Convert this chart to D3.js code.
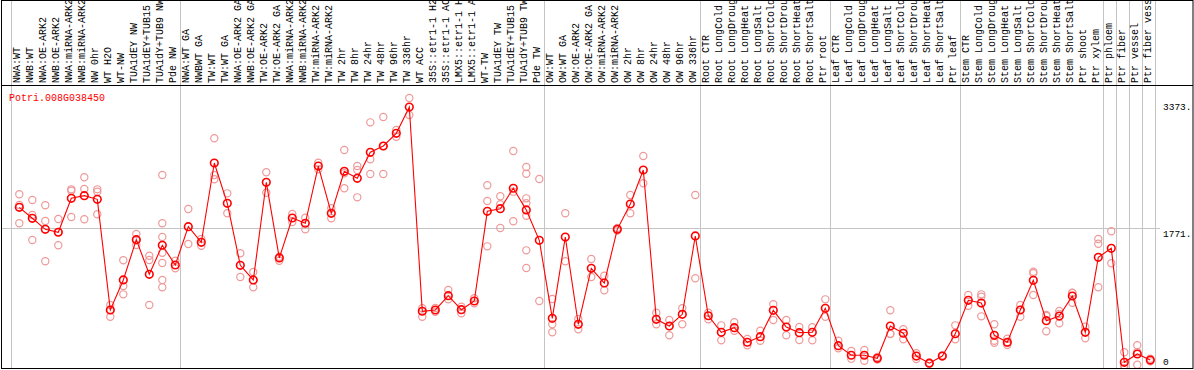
<!DOCTYPE html>
<html>
<head>
<meta charset="utf-8">
<script src="https://cdn.jsdelivr.net/npm/d3@7"></script>
<style>
    body { margin: 0; background: #fff; }
    svg text { font-family: "Liberation Mono", "DejaVu Sans Mono", monospace; }
</style>
</head>
<body onload="init()">
<div id="chart"></div>
<script>

var GENE = "Potri.008G038450";

var LABELS = [
    "NWA:WT", "NWB:WT", "NWA:OE-ARK2", "NWB:OE-ARK2", "NWA:miRNA-ARK2", "NWB:miRNA-ARK2",
    "NW 0hr", "WT H2O", "WT-NW", "TUA1dEY NW", "TUA1dEY+TUB15", "TUA1dY+TUB9 NW", "Pde NW",
    "NWA:WT GA", "NWBWT GA", "TW:WT", "TW:WT GA", "NWA:OE-ARK2 GA", "NWB:OE-ARK2 GA",
    "TW:OE-ARK2", "TW:OE-ARK2 GA", "NWA:miRNA-ARK2", "NWB:miRNA-ARK2", "TW:miRNA-ARK2", "TW:miRNA-ARK2",
    "TW 2hr", "TW 8hr", "TW 24hr", "TW 48hr", "TW 96hr", "TW 336hr",
    "WT ACC", "35S::etr1-1 H2", "35S::etr1-1 AC", "LMX5::etr1-1 H", "LMX5::etr1-1 A",
    "WT-TW", "TUA1dEY TW", "TUA1dEY+TUB15", "TUA1dY+TUB9 TW", "Pde TW",
    "OW:WT", "OW:WT GA", "OW:OE-ARK2", "OW:OE-ARK2 GA", "OW:miRNA-ARK2", "OW:miRNA-ARK2",
    "OW 2hr", "OW 8hr", "OW 24hr", "OW 48hr", "OW 96hr", "OW 336hr",
    "Root CTR", "Root LongCold", "Root LongDroug", "Root LongHeat", "Root LongSalt",
    "Root ShortCold", "Root ShortDrou", "Root ShortHeat", "Root ShortSalt", "Ptr root",
    "Leaf CTR", "Leaf LongCold", "Leaf LongDroug", "Leaf LongHeat", "Leaf LongSalt",
    "Leaf ShortCold", "Leaf ShortDrou", "Leaf ShortHeat", "Leaf ShortSalt", "Ptr leaf",
    "Stem CTR", "Stem LongCold", "Stem LongDroug", "Stem LongHeat", "Stem LongSalt",
    "Stem ShortCold", "Stem ShortDrou", "Stem ShortHeat", "Stem ShortSalt",
    "Ptr shoot", "Ptr xylem", "Ptr phloem", "Ptr fiber", "Ptr vessel", "Ptr fiber vess"
];

/* mean expression per sample */
var MEANS = [
    2046, 1901, 1755, 1716, 2165, 2200, 2152, 688, 1085, 1618, 1160, 1544, 1283,
    1790, 1583, 2632, 2099, 1279, 1085, 2377, 1376, 1905, 1835, 2592, 1967,
    2522, 2430, 2774, 2857, 3025, 3373,
    671, 688, 877, 692, 807,
    1993, 2028, 2298, 2011, 1610,
    578, 1653, 499, 1239, 1045, 1755, 2090, 2540, 565, 476, 631, 1667,
    612, 393, 454, 261, 335, 684, 463, 388, 393, 710,
    216, 89, 89, 49, 476, 380, 79, -15, 79, 374,
    816, 780, 353, 261, 688, 1081, 546, 608, 873,
    393, 1385, 1504, -4, 106, 26
];

/* single replicates per sample */
var REPLICATES = [
    [2218, 2077, 1835], [2143, 1944, 1614], [2073, 1865, 1332], [1891, 1720, 1544],
    [2284, 2266, 1918], [2443, 2288, 1888], [2284, 2253, 1954], [754, 599, 688],
    [1345, 1005, 895], [1693, 1548, 1614], [1406, 1349, 754],
    [2473, 1835, 1653, 1446, 1309, 1085, 988], [1340, 1239],
    [2024, 1561], [1627, 1538], [2959, 2473, 2417], [2231, 1967], [1438, 1124], [1190, 988],
    [2509, 2239], [1393, 1340], [1958, 1852], [1909, 1755], [2636, 2549], [2033, 1901],
    [2804, 2496, 2298], [2592, 2540, 2178], [3170, 2681, 2487], [3241, 2487, 2857],
    [3070, 2980], [3492, 3267],
    [710, 599], [665, 714], [952, 829], [644, 731], [843, 776],
    [2337, 2130, 1530], [2192, 2086, 1772], [2791, 2253, 1861],
    [2579, 2491, 2165, 2099, 1935, 1477, 1243], [2421, 807],
    [833, 499, 393], [1967, 1332], [569, 433], [1362, 1124], [1141, 948], [1772, 1739],
    [2209, 1967], [2725, 2364], [652, 499], [556, 353], [710, 499], [2209, 1107],
    [652, 565], [485, 287], [525, 414], [304, 221], [414, 282],
    [763, 556], [556, 353], [463, 291], [459, 287], [829, 599],
    [282, 181], [145, 44], [159, 17], [66, 33], [684, 374, 370],
    [433, 300], [115, 40], [-10, -20], [75, 85], [485, 300],
    [886, 745], [895, 864, 604], [499, 282, 255], [308, 225, 251], [754, 599, 690],
    [1194, 1173, 886], [622, 406, 610], [675, 512, 637], [917, 784, 913],
    [467, 313], [1627, 1565, 988], [1729, 1306], [128, -83, -45], [221, -36, 133], [44, 9]
];

/* index of the first sample of every group, separators are drawn there */
var GROUP_STARTS = [0, 13, 41, 53, 63, 73, 84, 85, 86, 87, 88];

var Y_TICKS = [0, 1771, 3373];

var WIDTH = 1194;
var HEIGHT = 370;
var LABEL_HEIGHT = 85;
var PLOT_BOTTOM = 368;

function init(){
    var svg = d3.select("#chart").append("svg")
        .attr("width", WIDTH)
        .attr("height", HEIGHT);

    var indices = d3.range(LABELS.length);

    var x = d3.scaleBand().domain(indices).range([11.3, 11.3 + 13*LABELS.length]);
    var y = d3.scaleLinear().domain([0, 3373]).range([362, 107]);

    function cx(i){ return x(i) + 8; }

    svg.append("clipPath").attr("id", "plotClip")
        .append("rect")
        .attr("x", 1).attr("y", LABEL_HEIGHT + 1)
        .attr("width", WIDTH - 2).attr("height", PLOT_BOTTOM - LABEL_HEIGHT - 1);

    svg.append("clipPath").attr("id", "labelClip")
        .append("rect")
        .attr("x", 0).attr("y", 1)
        .attr("width", WIDTH).attr("height", LABEL_HEIGHT - 1);

    /* grid: group separators and middle line */
    svg.append("g").selectAll("line")
        .data(GROUP_STARTS).enter()
        .append("line")
        .attr("x1", function(d){ return Math.round(x(0) + d*x.step()) + 0.5; })
        .attr("x2", function(d){ return Math.round(x(0) + d*x.step()) + 0.5; })
        .attr("y1", 0)
        .attr("y2", PLOT_BOTTOM)
        .attr("stroke", "#c4c4c4")
        .attr("stroke-width", 1);

    svg.append("line")
        .attr("x1", 1).attr("x2", 1160)
        .attr("y1", Math.round(y(1771)) + 0.5)
        .attr("y2", Math.round(y(1771)) + 0.5)
        .attr("stroke", "#c4c4c4");

    /* sample labels */
    svg.append("g").attr("clip-path", "url(#labelClip)")
        .selectAll("text")
        .data(LABELS).enter()
        .append("text")
        .attr("transform", function(d, i){ return "translate(" + (cx(i) + 1) + "," + (LABEL_HEIGHT - 2) + ") rotate(-90)"; })
        .style("font-size", "10px")
        .attr("fill", "#000")
        .text(function(d){ return d; });

    /* frame */
    svg.append("rect")
        .attr("x", 1.5).attr("y", 0.5)
        .attr("width", WIDTH - 2.5).attr("height", PLOT_BOTTOM)
        .attr("fill", "none")
        .attr("stroke", "#000");

    svg.append("line")
        .attr("x1", 1).attr("x2", WIDTH - 1)
        .attr("y1", LABEL_HEIGHT + 0.5).attr("y2", LABEL_HEIGHT + 0.5)
        .attr("stroke", "#000");

    /* y labels on the right */
    svg.append("g").selectAll("text")
        .data(Y_TICKS).enter()
        .append("text")
        .attr("x", 1163)
        .attr("y", function(d, i){
            if (i == 1) return y(d) + 8.5;
            return y(d) + 3;
        })
        .style("font-size", "9.5px")
        .attr("fill", "#000")
        .text(function(d){ return d == 0 ? "0" : d + "."; });

    /* gene name */
    svg.append("text")
        .attr("x", 9)
        .attr("y", 101)
        .style("font-size", "10px")
        .attr("fill", "#ff0000")
        .text(GENE);

    var plot = svg.append("g").attr("clip-path", "url(#plotClip)");

    /* replicates */
    REPLICATES.forEach(function(reps, i){
        plot.append("g").selectAll("circle")
            .data(reps).enter()
            .append("circle")
            .attr("cx", cx(i))
            .attr("cy", function(d){ return y(d); })
            .attr("r", 3.6)
            .attr("fill", "none")
            .attr("stroke", "#ee9a9a")
            .attr("stroke-width", 1.2);
    });

    /* mean line */
    var line = d3.line()
        .x(function(d, i){ return cx(i); })
        .y(function(d){ return y(d); });

    plot.append("path")
        .attr("d", line(MEANS))
        .attr("fill", "none")
        .attr("stroke", "#ff0000")
        .attr("stroke-width", 1.1);

    plot.append("g").selectAll("circle")
        .data(MEANS).enter()
        .append("circle")
        .attr("cx", function(d, i){ return cx(i); })
        .attr("cy", function(d){ return y(d); })
        .attr("r", 3.8)
        .attr("fill", "none")
        .attr("stroke", "#ff0000")
        .attr("stroke-width", 1.6);
}
</script>
</body>
</html>
